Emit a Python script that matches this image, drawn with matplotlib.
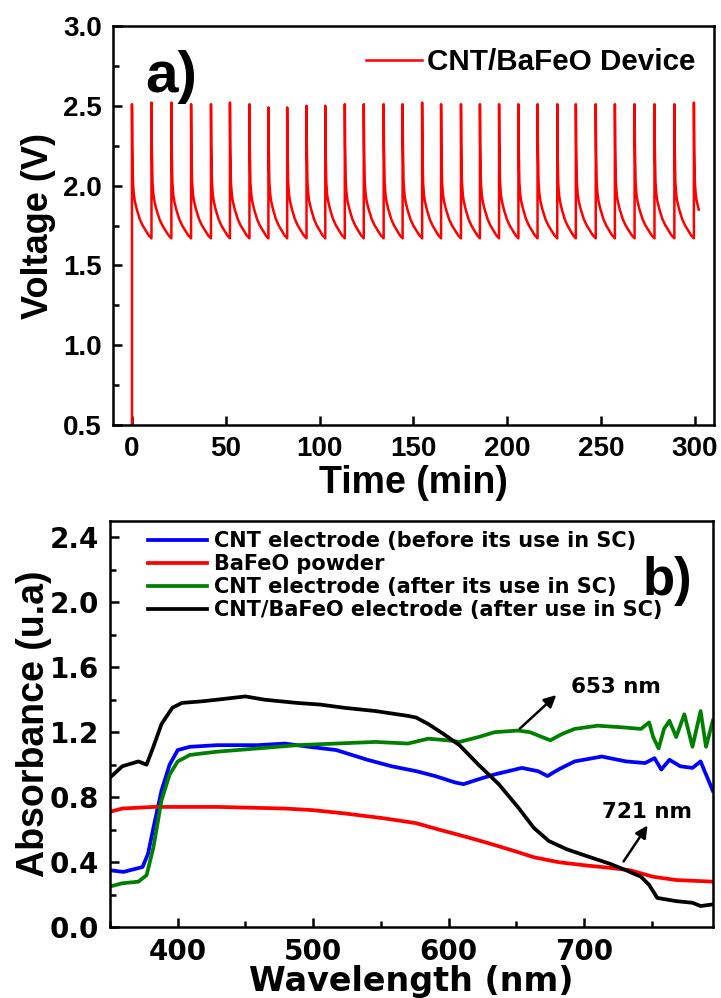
import numpy as np
import matplotlib
matplotlib.use("Agg")
import matplotlib.pyplot as plt
from matplotlib.ticker import MultipleLocator

plt.rcParams['font.family'] = ['Liberation Sans', 'DejaVu Sans']
plt.rcParams['font.weight'] = 'bold'
plt.rcParams['axes.labelweight'] = 'bold'
WIDE = ['DejaVu Sans']

# ---------------- panel a) data ----------------
peak_times = [0, 10.4, 21.0, 31.5, 42.1, 52.2, 62.6, 72.7, 82.7, 93.0,
              103.0, 113.4, 123.5, 134.1, 144.2, 154.6, 164.7, 175.3, 185.4, 195.6,
              205.9, 216.1, 226.6, 236.5, 247.1, 257.3, 267.8, 278.4, 289.0, 299.4]
peak_volts = [2.51, 2.52, 2.52, 2.51, 2.51, 2.52, 2.51, 2.49, 2.49, 2.50,
              2.50, 2.51, 2.51, 2.51, 2.51, 2.52, 2.51, 2.51, 2.51, 2.51,
              2.51, 2.51, 2.51, 2.51, 2.51, 2.51, 2.51, 2.51, 2.51, 2.52]
# discharge shape of one cycle (fraction of cycle, voltage)
cycle_frac = [0.0, 0.015, 0.05, 0.10, 0.15, 0.25, 0.40, 0.55, 0.70, 0.85, 1.0]
cycle_volt = [None, 2.25, 2.02, 1.94, 1.90, 1.85, 1.79, 1.75, 1.72, 1.69, 1.67]
start_volt = 0.3
end_time = 302.0
last_period = 10.3

t_a = [0.0]
v_a = [start_volt]
for i, p in enumerate(peak_times):
    period = peak_times[i + 1] - p if i + 1 < len(peak_times) else last_period
    for f, cv in zip(cycle_frac, cycle_volt):
        tt = p + f * period
        if tt > end_time:
            break
        t_a.append(tt)
        v_a.append(peak_volts[i] if cv is None else cv)

# ---------------- panel b) data ----------------
wl_black = [350, 359, 371, 377, 382, 388, 396, 403, 418, 429, 450, 464, 488, 505, 523, 546,
            570, 576, 585, 596, 608, 622, 637, 651, 663, 674, 687, 701, 719, 731, 742, 748,
            754, 768, 780, 786, 795]
ab_black = [0.92, 0.99, 1.02, 1.00, 1.11, 1.25, 1.35, 1.38, 1.39, 1.40, 1.42, 1.40, 1.38, 1.37, 1.35, 1.33,
            1.30, 1.29, 1.25, 1.19, 1.12, 1.00, 0.88, 0.74, 0.61, 0.53, 0.48, 0.44, 0.39, 0.35, 0.31, 0.26,
            0.18, 0.16, 0.15, 0.13, 0.14]

wl_blue = [350, 360, 374, 378, 382, 388, 394, 400, 409, 429, 459, 479, 497, 517, 540, 558,
           576, 590, 605, 611, 622, 634, 654, 666, 673, 681, 693, 713, 731, 745, 752, 757,
           763, 771, 780, 786, 791, 795]
ab_blue = [0.35, 0.34, 0.37, 0.45, 0.61, 0.84, 1.00, 1.09, 1.11, 1.12, 1.12, 1.13, 1.11, 1.09, 1.03, 0.99,
           0.96, 0.93, 0.89, 0.88, 0.91, 0.94, 0.98, 0.96, 0.93, 0.97, 1.02, 1.05, 1.02, 1.01, 1.04, 0.97,
           1.03, 0.99, 0.98, 1.02, 0.92, 0.84]

wl_green = [350, 359, 371, 377, 382, 388, 394, 400, 409, 429, 459, 488, 517, 546, 570, 585,
            599, 608, 622, 634, 651, 660, 669, 675, 684, 693, 710, 728, 742, 748, 751, 755,
            759, 763, 768, 774, 780, 786, 790, 795]
ab_green = [0.25, 0.27, 0.28, 0.32, 0.49, 0.78, 0.94, 1.02, 1.06, 1.08, 1.10, 1.12, 1.13, 1.14, 1.13, 1.16,
            1.15, 1.14, 1.17, 1.20, 1.21, 1.20, 1.17, 1.15, 1.19, 1.22, 1.24, 1.23, 1.22, 1.26, 1.17, 1.10,
            1.22, 1.27, 1.17, 1.31, 1.11, 1.33, 1.11, 1.27]

wl_red = [350, 359, 382, 429, 479, 500, 523, 552, 576, 593, 611, 628, 646, 663, 681, 701,
          719, 734, 751, 768, 795]
ab_red = [0.71, 0.73, 0.74, 0.74, 0.73, 0.72, 0.70, 0.67, 0.64, 0.60, 0.56, 0.52, 0.475, 0.43, 0.40, 0.38,
          0.365, 0.35, 0.31, 0.29, 0.28]

labels_b = ["CNT electrode (before its use in SC)", "BaFeO powder",
            "CNT electrode (after its use in SC)", "CNT/BaFeO electrode (after use in SC)"]

# ---------------- figure ----------------
fig = plt.figure(figsize=(7.21, 9.98), dpi=100)
ax1 = fig.add_axes([0.157, 0.574, 0.833, 0.400])
ax2 = fig.add_axes([0.1526, 0.071, 0.836, 0.407])

for ax in (ax1, ax2):
    for s in ax.spines.values():
        s.set_linewidth(1.8)
    ax.tick_params(which='both', direction='in', width=1.8, top=False, right=False, pad=8)
    ax.tick_params(which='major', length=6.5)
    ax.tick_params(which='minor', length=4.3)

# panel a
ax1.plot(t_a, v_a, color='#ff0000', lw=1.8, label='CNT/BaFeO Device')
ax1.set_xlim(-10, 310)
ax1.set_ylim(0.5, 3.0)
ax1.xaxis.set_major_locator(MultipleLocator(50))
ax1.set_yticks([0.5, 1.0, 1.5, 2.0, 2.5, 3.0])
ax1.set_yticklabels(['0.5', '1.0', '1.5', '2.0', '2.5', '3.0'])
ax1.yaxis.set_minor_locator(MultipleLocator(0.25))
ax1.tick_params(labelsize=20)
ax1.set_xlabel('Time (min)', fontsize=27, labelpad=2)
ax1.set_ylabel('Voltage (V)', fontsize=26, labelpad=5)
ax1.legend(loc='center right', bbox_to_anchor=(0.97, 0.91), frameon=False, fontsize=21.3,
           handlelength=1.9, handletextpad=0.18, borderpad=0, borderaxespad=0)
ax1.text(0.097, 0.871, 'a)', transform=ax1.transAxes, fontsize=42, fontweight='bold',
         ha='center', va='center')

# panel b
ax2.plot(wl_blue, ab_blue, color='#0000ff', lw=2.7, label=labels_b[0])
ax2.plot(wl_red, ab_red, color='#ff0000', lw=2.7, label=labels_b[1])
ax2.plot(wl_green, ab_green, color='#008000', lw=2.7, label=labels_b[2])
ax2.plot(wl_black, ab_black, color='#000000', lw=2.7, label=labels_b[3])
ax2.set_xlim(350, 795)
ax2.set_ylim(0, 2.5)
ax2.xaxis.set_major_locator(MultipleLocator(100))
ax2.xaxis.set_minor_locator(MultipleLocator(50))
ax2.set_yticks([0.0, 0.4, 0.8, 1.2, 1.6, 2.0, 2.4])
ax2.set_yticklabels(['0.0', '0.4', '0.8', '1.2', '1.6', '2.0', '2.4'])
ax2.yaxis.set_minor_locator(MultipleLocator(0.2))
for lab in ax2.get_xticklabels() + ax2.get_yticklabels():
    lab.set_family(WIDE)
    lab.set_fontsize(20)
    lab.set_fontweight('bold')
ax2.set_xlabel('Wavelength (nm)', fontsize=24, labelpad=-1, family=WIDE)
ax2.set_ylabel('Absorbance (u.a)', fontsize=27, labelpad=-2)
leg = ax2.legend(loc='upper left', bbox_to_anchor=(0.063, 0.975), frameon=False,
                 prop=dict(family=WIDE, size=15, weight='bold'), handlelength=2.85,
                 handletextpad=0.3, labelspacing=0.15, borderpad=0, borderaxespad=0)
ax2.text(0.925, 0.852, 'b)', transform=ax2.transAxes, fontsize=38, fontweight='bold',
         ha='center', va='center')

ax2.annotate('', xy=(681, 1.44), xytext=(651, 1.21),
             arrowprops=dict(arrowstyle='-|>', color='black', lw=1.8, mutation_scale=18))
ax2.text(690, 1.475, '653 nm', fontsize=15.5, fontweight='bold', ha='left', va='center',
         family=WIDE)
ax2.annotate('', xy=(748, 0.64), xytext=(728, 0.39),
             arrowprops=dict(arrowstyle='-|>', color='black', lw=1.8, mutation_scale=18))
ax2.text(713, 0.71, '721 nm', fontsize=15.5, fontweight='bold', ha='left', va='center',
         family=WIDE)

fig.savefig('out.png', dpi=100)
